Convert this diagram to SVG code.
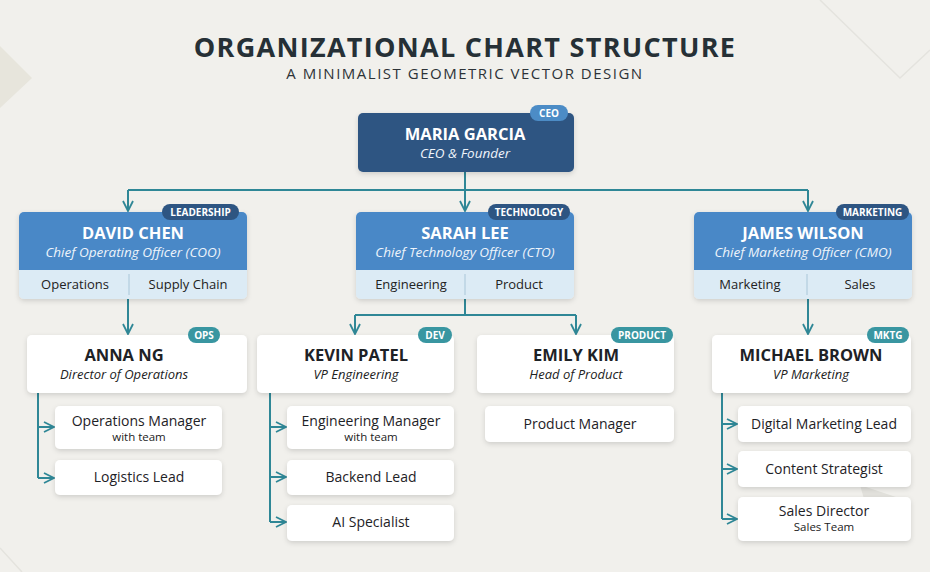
<svg xmlns="http://www.w3.org/2000/svg" width="930" height="572" viewBox="0 0 930 572">
<defs>
<filter id="sh" x="-10%" y="-20%" width="120%" height="150%">
<feDropShadow dx="0" dy="2" stdDeviation="2.5" flood-color="#000" flood-opacity="0.14"/>
</filter>
<marker id="ar" viewBox="0 0 12 12" refX="11" refY="6" markerWidth="12" markerHeight="12" markerUnits="userSpaceOnUse" orient="auto">
<path d="M1,1 L11,6 L1,11" fill="none" stroke="#2f8796" stroke-width="1.8"/>
</marker>
<style>
text{font-family:"Open Sans","Liberation Sans",sans-serif;text-anchor:middle}
.conn{fill:none;stroke:#2f8796;stroke-width:2}
.title{font-size:27px;font-weight:700;fill:#263036;letter-spacing:1.3px}
.sub{font-size:15px;fill:#2d3338;letter-spacing:1.5px}
.nm{font-size:16.5px;font-weight:700;fill:#fff}
.role{font-size:13.5px;font-style:italic;fill:#eef4fb}
.dept{font-size:13px;fill:#222}
.nm2{font-size:16.5px;font-weight:700;fill:#1e2226}
.role2{font-size:13px;font-style:italic;fill:#222}
.item{font-size:14px;fill:#1e2226}
.itsub{font-size:11.5px;fill:#222}
.badge{font-size:10px;font-weight:700;fill:#fff}
.white{fill:#fff}
</style>
</defs>
<rect width="930" height="572" fill="#f1f0ec"/>
<polygon points="0,46 32,78 0,108" fill="#e7e5dc"/>
<path d="M820,0 L900,78 L930,50 M0,548 L22,572" fill="none" stroke="#e4e3de" stroke-width="1.5"/>
<polygon points="860,485 905,500 870,520" fill="#e2e1dc"/>
<text x="465" y="57" class="title">ORGANIZATIONAL CHART STRUCTURE</text>
<text x="465" y="79" class="sub">A MINIMALIST GEOMETRIC VECTOR DESIGN</text>

<g id="connectors">
<path class="conn" d="M465,172 V190 M128,190 H808"/>
<path class="conn" d="M128,190 V211" marker-end="url(#ar)"/>
<path class="conn" d="M465,190 V211" marker-end="url(#ar)"/>
<path class="conn" d="M808,190 V211" marker-end="url(#ar)"/>
<path class="conn" d="M128,299 V334" marker-end="url(#ar)"/>
<path class="conn" d="M465,299 V315 M355,315 H576"/>
<path class="conn" d="M355,315 V334" marker-end="url(#ar)"/>
<path class="conn" d="M576,315 V334" marker-end="url(#ar)"/>
<path class="conn" d="M808,299 V334" marker-end="url(#ar)"/>
<path class="conn" d="M38,393 V478"/>
<path class="conn" d="M38,427 H54" marker-end="url(#ar)"/>
<path class="conn" d="M38,478 H54" marker-end="url(#ar)"/>
<path class="conn" d="M270,393 V522"/>
<path class="conn" d="M270,427 H286" marker-end="url(#ar)"/>
<path class="conn" d="M270,477 H286" marker-end="url(#ar)"/>
<path class="conn" d="M270,522 H286" marker-end="url(#ar)"/>
<path class="conn" d="M722,393 V519"/>
<path class="conn" d="M722,424 H737" marker-end="url(#ar)"/>
<path class="conn" d="M722,469 H737" marker-end="url(#ar)"/>
<path class="conn" d="M722,519 H737" marker-end="url(#ar)"/>
</g>

<g id="ceo">
<rect x="358" y="113" width="216" height="59" rx="5" fill="#2e5582" filter="url(#sh)"/>
<rect x="530" y="105" width="38" height="16" rx="8" fill="#4c8cc6"/>
<text x="549" y="117" class="badge">CEO</text>
<text x="465" y="140" class="nm">MARIA GARCIA</text>
<text x="465" y="158" class="role">CEO &amp; Founder</text>
</g>

<g id="david">
<g filter="url(#sh)">
<rect x="19" y="212" width="228" height="87" rx="5" fill="#dcebf5"/>
<path d="M19,270 V217 a5,5 0 0 1 5,-5 H242 a5,5 0 0 1 5,5 V270 Z" fill="#4a88c7"/>
</g>
<line x1="129" y1="274" x2="129" y2="295" stroke="#a9c6d8" stroke-width="1"/>
<rect x="162" y="204" width="77" height="16" rx="8" fill="#2e5582"/>
<text x="200.5" y="216" class="badge">LEADERSHIP</text>
<text x="133" y="239" class="nm">DAVID CHEN</text>
<text x="133" y="257" class="role">Chief Operating Officer (COO)</text>
<text x="75" y="289" class="dept">Operations</text>
<text x="188" y="289" class="dept">Supply Chain</text>
</g>

<g id="sarah">
<g filter="url(#sh)">
<rect x="356" y="212" width="218" height="87" rx="5" fill="#dcebf5"/>
<path d="M356,270 V217 a5,5 0 0 1 5,-5 H569 a5,5 0 0 1 5,5 V270 Z" fill="#4a88c7"/>
</g>
<line x1="465" y1="274" x2="465" y2="295" stroke="#a9c6d8" stroke-width="1"/>
<rect x="488" y="204" width="82" height="16" rx="8" fill="#2e5582"/>
<text x="529" y="216" class="badge">TECHNOLOGY</text>
<text x="465" y="239" class="nm">SARAH LEE</text>
<text x="465" y="257" class="role">Chief Technology Officer (CTO)</text>
<text x="411" y="289" class="dept">Engineering</text>
<text x="519" y="289" class="dept">Product</text>
</g>

<g id="james">
<g filter="url(#sh)">
<rect x="694" y="212" width="218" height="87" rx="5" fill="#dcebf5"/>
<path d="M694,270 V217 a5,5 0 0 1 5,-5 H907 a5,5 0 0 1 5,5 V270 Z" fill="#4a88c7"/>
</g>
<line x1="807" y1="274" x2="807" y2="295" stroke="#a9c6d8" stroke-width="1"/>
<rect x="836" y="204" width="73" height="16" rx="8" fill="#2e5582"/>
<text x="872.5" y="216" class="badge">MARKETING</text>
<text x="803" y="239" class="nm">JAMES WILSON</text>
<text x="803" y="257" class="role">Chief Marketing Officer (CMO)</text>
<text x="750" y="289" class="dept">Marketing</text>
<text x="860" y="289" class="dept">Sales</text>
</g>

<g id="anna">
<rect x="27" y="335" width="220" height="58" rx="5" class="white" filter="url(#sh)"/>
<rect x="188" y="327" width="32" height="16" rx="8" fill="#3996a1"/>
<text x="204" y="339" class="badge">OPS</text>
<text x="124" y="361" class="nm2">ANNA NG</text>
<text x="124" y="379" class="role2">Director of Operations</text>
</g>
<g id="opsmgr">
<rect x="55" y="406" width="167" height="43" rx="5" class="white" filter="url(#sh)"/>
<text x="139" y="426" class="item">Operations Manager</text>
<text x="139" y="441" class="itsub">with team</text>
</g>
<g id="logistics">
<rect x="55" y="460" width="167" height="35" rx="5" class="white" filter="url(#sh)"/>
<text x="139" y="482" class="item">Logistics Lead</text>
</g>

<g id="kevin">
<rect x="257" y="335" width="197" height="58" rx="5" class="white" filter="url(#sh)"/>
<rect x="418" y="327" width="34" height="16" rx="8" fill="#3996a1"/>
<text x="435" y="339" class="badge">DEV</text>
<text x="356" y="361" class="nm2">KEVIN PATEL</text>
<text x="356" y="379" class="role2">VP Engineering</text>
</g>
<g id="engmgr">
<rect x="287" y="406" width="167" height="43" rx="5" class="white" filter="url(#sh)"/>
<text x="371" y="426" class="item">Engineering Manager</text>
<text x="371" y="441" class="itsub">with team</text>
</g>
<g id="backend">
<rect x="287" y="460" width="167" height="35" rx="5" class="white" filter="url(#sh)"/>
<text x="371" y="482" class="item">Backend Lead</text>
</g>
<g id="ai">
<rect x="287" y="505" width="167" height="36" rx="5" class="white" filter="url(#sh)"/>
<text x="371" y="527" class="item">AI Specialist</text>
</g>

<g id="emily">
<rect x="477" y="335" width="197" height="58" rx="5" class="white" filter="url(#sh)"/>
<rect x="611" y="327" width="62" height="16" rx="8" fill="#3996a1"/>
<text x="642" y="339" class="badge">PRODUCT</text>
<text x="576" y="361" class="nm2">EMILY KIM</text>
<text x="576" y="379" class="role2">Head of Product</text>
</g>
<g id="prodmgr">
<rect x="485" y="406" width="189" height="36" rx="5" class="white" filter="url(#sh)"/>
<text x="580" y="429" class="item">Product Manager</text>
</g>

<g id="michael">
<rect x="712" y="335" width="199" height="58" rx="5" class="white" filter="url(#sh)"/>
<rect x="867" y="327" width="42" height="16" rx="8" fill="#3996a1"/>
<text x="888" y="339" class="badge">MKTG</text>
<text x="811" y="361" class="nm2">MICHAEL BROWN</text>
<text x="811" y="379" class="role2">VP Marketing</text>
</g>
<g id="digital">
<rect x="738" y="406" width="173" height="36" rx="5" class="white" filter="url(#sh)"/>
<text x="824" y="429" class="item">Digital Marketing Lead</text>
</g>
<g id="content">
<rect x="738" y="451" width="173" height="36" rx="5" class="white" filter="url(#sh)"/>
<text x="824" y="474" class="item">Content Strategist</text>
</g>
<g id="sales">
<rect x="738" y="497" width="173" height="44" rx="5" class="white" filter="url(#sh)"/>
<text x="824" y="516" class="item">Sales Director</text>
<text x="824" y="531" class="itsub">Sales Team</text>
</g>
</svg>
